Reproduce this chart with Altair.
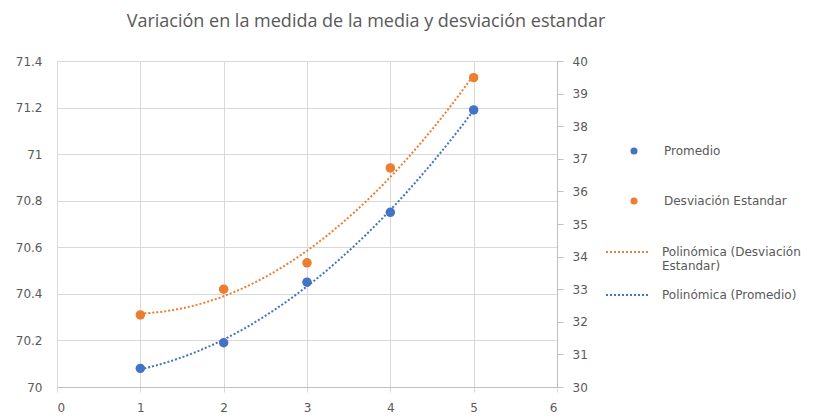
import altair as alt
import pandas as pd

# ---- data ----
x_vals = [1, 2, 3, 4, 5]
promedio = [70.08, 70.19, 70.45, 70.75, 71.19]
desviacion = [32.21, 33.00, 33.81, 36.72, 39.49]
series_names = ["Promedio", "Desviación Estandar"]
trend_names = ["Polinómica (Desviación Estandar)", "Polinómica (Promedio)"]
x_ticks = [0, 1, 2, 3, 4, 5, 6]
left_ticks = [70, 70.2, 70.4, 70.6, 70.8, 71, 71.2, 71.4]
right_ticks = [30, 31, 32, 33, 34, 35, 36, 37, 38, 39, 40]
title_text = "Variación en la medida de la media y desviación estandar"

BLUE = "#4472C4"
ORANGE = "#ED7D31"
TXT = "#595959"
GRID = "#D9D9D9"
AXIS = "#BFBFBF"
FONT = "DejaVu Sans"

df = pd.DataFrame({
    "x": x_vals * 2,
    "value": promedio + desviacion,
    "serie": [series_names[0]] * len(x_vals) + [series_names[1]] * len(x_vals),
})

base = alt.Chart(df)

x_enc = alt.X(
    "x:Q",
    scale=alt.Scale(domain=[0, 6], nice=False, zero=False),
    axis=alt.Axis(values=x_ticks, title=None, grid=True, gridColor=GRID,
                  domain=True, domainColor=AXIS, ticks=True, tickSize=5,
                  tickColor=GRID, labelPadding=10, labelFont=FONT,
                  labelFontSize=12, labelColor=TXT),
)

y_left = alt.Y(
    "value:Q",
    scale=alt.Scale(domain=[70, 71.4], nice=False, zero=False),
    axis=alt.Axis(values=left_ticks, format="~g", orient="left", title=None,
                  grid=True, gridColor=GRID, domain=False, ticks=False,
                  labelPadding=15, labelFont=FONT, labelFontSize=12,
                  labelColor=TXT),
)

y_right = alt.Y(
    "value:Q",
    scale=alt.Scale(domain=[30, 40], nice=False, zero=False),
    axis=alt.Axis(values=right_ticks, orient="right", title=None, grid=False,
                  domain=True, domainColor=AXIS, ticks=True, tickSize=6,
                  tickColor=AXIS, labelPadding=9, labelFont=FONT,
                  labelFontSize=12, labelColor=TXT),
)

color_scale = alt.Scale(domain=series_names, range=[BLUE, ORANGE])
stroke_scale = alt.Scale(domain=trend_names, range=[ORANGE, BLUE])

legend_points = alt.Legend(
    title=None, orient="none", legendX=571, legendY=84, symbolType="circle",
    symbolSize=50, labelOffset=24, rowPadding=38, padding=0,
    labelFont=FONT, labelFontSize=12, labelColor=TXT,
)

legend_lines = alt.Legend(
    title=None, orient="none", legendX=548, legendY=169, symbolType="stroke",
    symbolSize=1764, symbolStrokeWidth=2, symbolDash=[2, 2], labelOffset=13,
    rowPadding=1, padding=0, labelFont=FONT, labelFontSize=12,
    labelColor=TXT, labelLimit=300,
    labelExpr="datum.label == 'Polinómica (Desviación Estandar)' ? ['Polinómica (Desviación', 'Estandar)'] : datum.label",
)


def points(name, y):
    return base.transform_filter(alt.datum.serie == name).mark_circle(
        size=90, opacity=1
    ).encode(
        x=x_enc, y=y,
        color=alt.Color("serie:N", scale=color_scale, legend=legend_points),
    )


def trend(name, y):
    return base.transform_filter(alt.datum.serie == name).transform_regression(
        "x", "value", method="poly", order=2, extent=[1, 5], groupby=["serie"]
    ).transform_calculate(
        trend="'Polinómica (' + datum.serie + ')'"
    ).mark_line(strokeDash=[2, 2], strokeWidth=2).encode(
        x=x_enc, y=y,
        stroke=alt.Stroke("trend:N", scale=stroke_scale, legend=legend_lines),
    )


left = alt.layer(points(series_names[0], y_left), trend(series_names[0], y_left))
right = alt.layer(points(series_names[1], y_right), trend(series_names[1], y_right))

chart = alt.layer(left, right).resolve_scale(y="independent").properties(
    width=500,
    height=326,
    autosize=alt.AutoSizeParams(type="none"),
    padding={"left": 49, "top": 53, "right": 252, "bottom": 30},
    title=alt.Title(title_text, font="Open Sans", fontSize=18,
                    fontWeight="normal", color=TXT, anchor="middle",
                    frame="group", dx=59, offset=24),
).configure_view(stroke=None)

chart.save("out.html", embed_options={"renderer": "svg", "actions": False})
